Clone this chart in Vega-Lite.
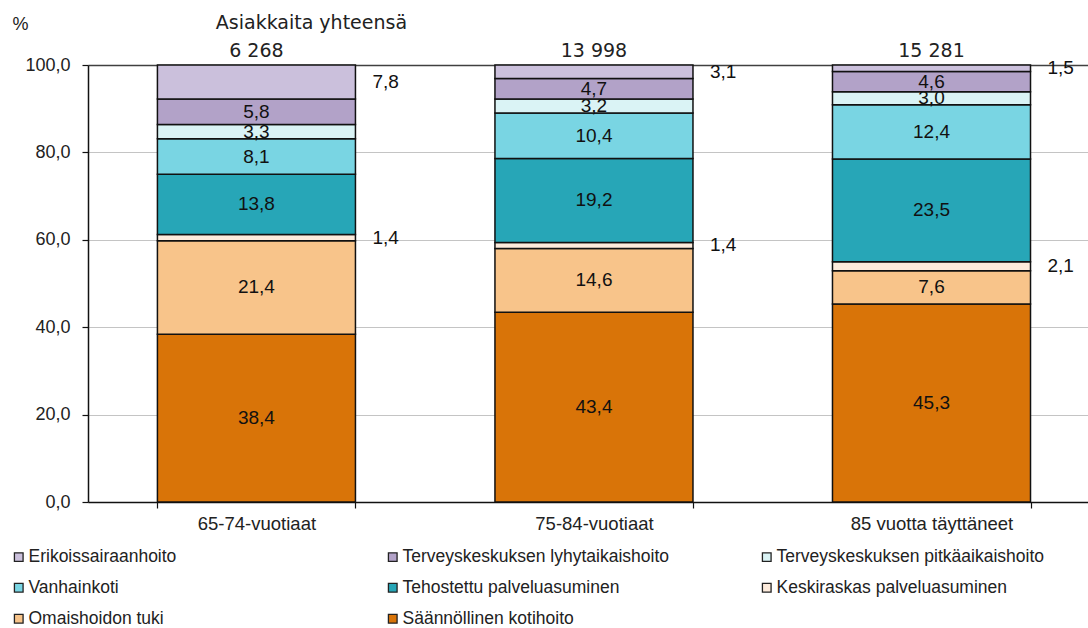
{
  "$schema": "https://vega.github.io/schema/vega-lite/v6.json",
  "width": 1000,
  "height": 437,
  "autosize": {"type": "pad"},
  "padding": {"left": 10, "top": 14, "right": 0, "bottom": 0},
  "config": {
    "font": "Liberation Sans",
    "view": {"stroke": null},
    "locale": {
      "number": {"decimal": ",", "thousands": " ", "grouping": [3], "currency": ["", " €"]}
    }
  },
  "datasets": {
    "osuudet": [
      {"ika": "65-74-vuotiaat", "laji": "Säännöllinen kotihoito", "jarj": 1, "osuus": 38.4},
      {"ika": "65-74-vuotiaat", "laji": "Omaishoidon tuki", "jarj": 2, "osuus": 21.4},
      {"ika": "65-74-vuotiaat", "laji": "Keskiraskas palveluasuminen", "jarj": 3, "osuus": 1.4},
      {"ika": "65-74-vuotiaat", "laji": "Tehostettu palveluasuminen", "jarj": 4, "osuus": 13.8},
      {"ika": "65-74-vuotiaat", "laji": "Vanhainkoti", "jarj": 5, "osuus": 8.1},
      {"ika": "65-74-vuotiaat", "laji": "Terveyskeskuksen pitkäaikaishoito", "jarj": 6, "osuus": 3.3},
      {"ika": "65-74-vuotiaat", "laji": "Terveyskeskuksen lyhytaikaishoito", "jarj": 7, "osuus": 5.8},
      {"ika": "65-74-vuotiaat", "laji": "Erikoissairaanhoito", "jarj": 8, "osuus": 7.8},
      {"ika": "75-84-vuotiaat", "laji": "Säännöllinen kotihoito", "jarj": 1, "osuus": 43.4},
      {"ika": "75-84-vuotiaat", "laji": "Omaishoidon tuki", "jarj": 2, "osuus": 14.6},
      {"ika": "75-84-vuotiaat", "laji": "Keskiraskas palveluasuminen", "jarj": 3, "osuus": 1.4},
      {"ika": "75-84-vuotiaat", "laji": "Tehostettu palveluasuminen", "jarj": 4, "osuus": 19.2},
      {"ika": "75-84-vuotiaat", "laji": "Vanhainkoti", "jarj": 5, "osuus": 10.4},
      {"ika": "75-84-vuotiaat", "laji": "Terveyskeskuksen pitkäaikaishoito", "jarj": 6, "osuus": 3.2},
      {"ika": "75-84-vuotiaat", "laji": "Terveyskeskuksen lyhytaikaishoito", "jarj": 7, "osuus": 4.7},
      {"ika": "75-84-vuotiaat", "laji": "Erikoissairaanhoito", "jarj": 8, "osuus": 3.1},
      {"ika": "85 vuotta täyttäneet", "laji": "Säännöllinen kotihoito", "jarj": 1, "osuus": 45.3},
      {"ika": "85 vuotta täyttäneet", "laji": "Omaishoidon tuki", "jarj": 2, "osuus": 7.6},
      {"ika": "85 vuotta täyttäneet", "laji": "Keskiraskas palveluasuminen", "jarj": 3, "osuus": 2.1},
      {"ika": "85 vuotta täyttäneet", "laji": "Tehostettu palveluasuminen", "jarj": 4, "osuus": 23.5},
      {"ika": "85 vuotta täyttäneet", "laji": "Vanhainkoti", "jarj": 5, "osuus": 12.4},
      {"ika": "85 vuotta täyttäneet", "laji": "Terveyskeskuksen pitkäaikaishoito", "jarj": 6, "osuus": 3.0},
      {"ika": "85 vuotta täyttäneet", "laji": "Terveyskeskuksen lyhytaikaishoito", "jarj": 7, "osuus": 4.6},
      {"ika": "85 vuotta täyttäneet", "laji": "Erikoissairaanhoito", "jarj": 8, "osuus": 1.5}
    ],
    "asiakkaat": [
      {"ika": "65-74-vuotiaat", "yhteensa": 6268},
      {"ika": "75-84-vuotiaat", "yhteensa": 13998},
      {"ika": "85 vuotta täyttäneet", "yhteensa": 15281}
    ],
    "otsikko": [
      {"ika": "65-74-vuotiaat", "teksti": "Asiakkaita yhteensä"}
    ]
  },
  "layer": [
    {
      "data": {"name": "osuudet"},
      "transform": [
        {"stack": "osuus", "groupby": ["ika"], "sort": [{"field": "jarj", "order": "ascending"}], "as": ["ala", "yla"]}
      ],
      "mark": {"type": "bar", "stroke": "#111111", "strokeWidth": 1.5},
      "encoding": {
        "x": {
          "field": "ika", "type": "nominal",
          "sort": ["65-74-vuotiaat", "75-84-vuotiaat", "85 vuotta täyttäneet"],
          "scale": {"paddingInner": 0.4133, "paddingOuter": 0.188, "align": 0.547},
          "axis": {
            "title": null, "labelAngle": 0, "labelFontSize": 18.5, "labelColor": "#222222",
            "tickBand": "extent", "tickSize": 6, "labelPadding": 6,
            "domainColor": "#111111", "domainWidth": 1.5, "tickColor": "#111111", "tickWidth": 1.2,
            "grid": false
          }
        },
        "y": {
          "field": "ala", "type": "quantitative",
          "scale": {"domain": [0, 100], "nice": false},
          "axis": {
            "title": "%", "titleAngle": 0, "titleAlign": "left", "titleBaseline": "alphabetic",
            "titleX": -76, "titleY": -36, "titleFontSize": 18, "titleFontWeight": "normal", "titleColor": "#222222",
            "format": ".1f", "values": [0, 20, 40, 60, 80, 100],
            "tickSize": 6, "labelPadding": 12, "labelFontSize": 18, "labelColor": "#222222",
            "domainColor": "#111111", "domainWidth": 1.5, "tickColor": "#111111", "tickWidth": 1.2,
            "grid": true,
            "gridColor": {"condition": {"test": "datum.value === 100", "value": "#404040"}, "value": "#c4c4c4"},
            "gridWidth": {"condition": {"test": "datum.value === 100", "value": 1.6}, "value": 1}
          }
        },
        "y2": {"field": "yla"},
        "color": {
          "field": "laji", "type": "nominal",
          "scale": {
            "domain": [
              "Erikoissairaanhoito", "Terveyskeskuksen lyhytaikaishoito", "Terveyskeskuksen pitkäaikaishoito",
              "Vanhainkoti", "Tehostettu palveluasuminen", "Keskiraskas palveluasuminen",
              "Omaishoidon tuki", "Säännöllinen kotihoito"
            ],
            "range": ["#CBC0DC", "#B2A2C8", "#DAF3F5", "#79D5E3", "#27A6B7", "#FDEBDC", "#F8C48A", "#D97408"]
          },
          "legend": {
            "title": null, "orient": "none", "legendX": -78, "legendY": 483,
            "direction": "horizontal", "columns": 3, "gridAlign": "all",
            "columnPadding": 88, "rowPadding": 12, "padding": 0,
            "symbolType": "square", "symbolSize": 75, "symbolStrokeColor": "#222222", "symbolStrokeWidth": 1.3,
            "labelFontSize": 17.5, "labelColor": "#222222", "labelOffset": 1, "labelLimit": 400
          }
        }
      }
    },
    {
      "data": {"name": "osuudet"},
      "transform": [
        {"stack": "osuus", "groupby": ["ika"], "sort": [{"field": "jarj", "order": "ascending"}], "as": ["ala", "yla"]},
        {"calculate": "(datum.ala + datum.yla) / 2", "as": "keski"},
        {"filter": {"not": {"field": "laji", "oneOf": ["Keskiraskas palveluasuminen", "Erikoissairaanhoito"]}}}
      ],
      "mark": {"type": "text", "fontSize": 19, "color": "#111111", "baseline": "middle", "align": "center"},
      "encoding": {
        "x": {"field": "ika", "type": "nominal", "sort": ["65-74-vuotiaat", "75-84-vuotiaat", "85 vuotta täyttäneet"]},
        "y": {"field": "keski", "type": "quantitative", "scale": {"domain": [0, 100], "nice": false}},
        "text": {"field": "osuus", "type": "quantitative", "format": ".1f"}
      }
    },
    {
      "data": {"name": "osuudet"},
      "transform": [
        {"stack": "osuus", "groupby": ["ika"], "sort": [{"field": "jarj", "order": "ascending"}], "as": ["ala", "yla"]},
        {"calculate": "(datum.ala + datum.yla) / 2", "as": "keski"},
        {"filter": {"field": "laji", "oneOf": ["Keskiraskas palveluasuminen", "Erikoissairaanhoito"]}}
      ],
      "mark": {"type": "text", "fontSize": 19, "color": "#111111", "baseline": "middle", "align": "left", "dx": 116},
      "encoding": {
        "x": {"field": "ika", "type": "nominal", "sort": ["65-74-vuotiaat", "75-84-vuotiaat", "85 vuotta täyttäneet"]},
        "y": {"field": "keski", "type": "quantitative", "scale": {"domain": [0, 100], "nice": false}},
        "text": {"field": "osuus", "type": "quantitative", "format": ".1f"}
      }
    },
    {
      "data": {"name": "asiakkaat"},
      "mark": {"type": "text", "font": "DejaVu Sans", "fontSize": 19, "color": "#222222", "baseline": "alphabetic", "align": "center", "dy": -8},
      "encoding": {
        "x": {"field": "ika", "type": "nominal", "sort": ["65-74-vuotiaat", "75-84-vuotiaat", "85 vuotta täyttäneet"]},
        "y": {"datum": 100, "type": "quantitative"},
        "text": {"field": "yhteensa", "type": "quantitative", "format": ",d"}
      }
    },
    {
      "data": {"name": "otsikko"},
      "mark": {"type": "text", "font": "DejaVu Sans", "fontSize": 19, "color": "#222222", "baseline": "alphabetic", "align": "center", "dx": 55, "dy": -36},
      "encoding": {
        "x": {"field": "ika", "type": "nominal", "sort": ["65-74-vuotiaat", "75-84-vuotiaat", "85 vuotta täyttäneet"]},
        "y": {"datum": 100, "type": "quantitative"},
        "text": {"field": "teksti", "type": "nominal"}
      }
    }
  ]
}
